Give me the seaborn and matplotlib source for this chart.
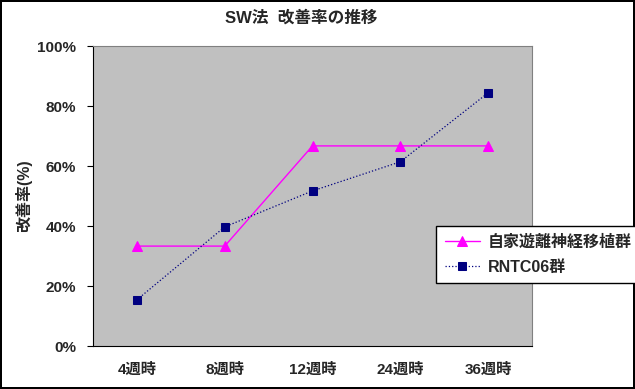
import numpy as np
import pandas as pd
import matplotlib
matplotlib.use("Agg")
import matplotlib.pyplot as plt
import seaborn as sns

# Data
weeks = ["4週時", "8週時", "12週時", "24週時", "36週時"]
graft_rate = [33.3, 33.3, 66.7, 66.7, 66.7]      # 自家遊離神経移植群
rntc_rate = [15.4, 39.7, 51.7, 61.4, 84.4]       # RNTC06群
series_names = ["自家遊離神経移植群", "RNTC06群"]

sns.set_theme(style="white")
plt.rcParams["font.family"] = ["Liberation Sans", "Noto Sans CJK JP", "DejaVu Sans"]
plt.rcParams["font.weight"] = "bold"

df = pd.DataFrame({"pos": np.arange(len(weeks)), "graft": graft_rate, "rntc": rntc_rate})

fig = plt.figure(figsize=(6.35, 3.89), dpi=100, linewidth=1.5, edgecolor="black")
ax = fig.add_axes([93 / 635, 1 - 346 / 389, 439 / 635, 300 / 389])
ax.set_facecolor("#c0c0c0")

sns.lineplot(data=df, x="pos", y="graft", ax=ax, color="#ff00ff", marker="^",
             markersize=6.5, markeredgecolor="#ff00ff", linewidth=1, label=series_names[0])
sns.lineplot(data=df, x="pos", y="rntc", ax=ax, color="#000080", marker="s",
             markersize=5.5, markeredgecolor="#000080", linewidth=0.9, linestyle=":",
             label=series_names[1])

ax.set_xlim(-0.5, len(weeks) - 0.5)
ax.set_ylim(0, 100)
ax.set_yticks(np.arange(0, 101, 20))
ax.set_yticklabels([f"{v}%" for v in range(0, 101, 20)], fontsize=11, fontweight="bold")
ax.set_xticks(df["pos"])
ax.set_xticklabels(weeks, fontsize=11, fontweight="bold")
ax.set_xticks(np.arange(0.5, len(weeks) - 0.5), minor=True)
ax.tick_params(axis="x", which="major", length=0, pad=12)
ax.tick_params(axis="x", which="minor", length=4, direction="in", color="black", width=0.8)
ax.tick_params(axis="y", length=4, direction="out", color="black", width=0.8, left=True, pad=8)
for side in ["left", "bottom"]:
    ax.spines[side].set_color("black")
    ax.spines[side].set_linewidth(0.8)
for side in ["top", "right"]:
    ax.spines[side].set_color("#808080")
    ax.spines[side].set_linewidth(0.8)

ax.set_xlabel("")
ax.set_ylabel("改善率(%)", fontsize=11.5, fontweight="bold", labelpad=4)

fig.suptitle("SW法  改善率の推移", x=0.475, y=0.975, fontsize=12, fontweight="bold")

ax.get_legend().remove()
handles, labels = ax.get_legend_handles_labels()
leg = fig.legend(handles, labels, loc="upper left",
                 bbox_to_anchor=(436 / 635, 1 - 226 / 389), frameon=True,
                 fancybox=False, edgecolor="black", framealpha=1,
                 prop={"size": 11.5, "weight": "bold"}, handlelength=2.2,
                 handletextpad=0.5, borderpad=0.55, labelspacing=0.6,
                 borderaxespad=0)
leg.get_frame().set_linewidth(1)

fig.savefig("out.png", dpi=100)
